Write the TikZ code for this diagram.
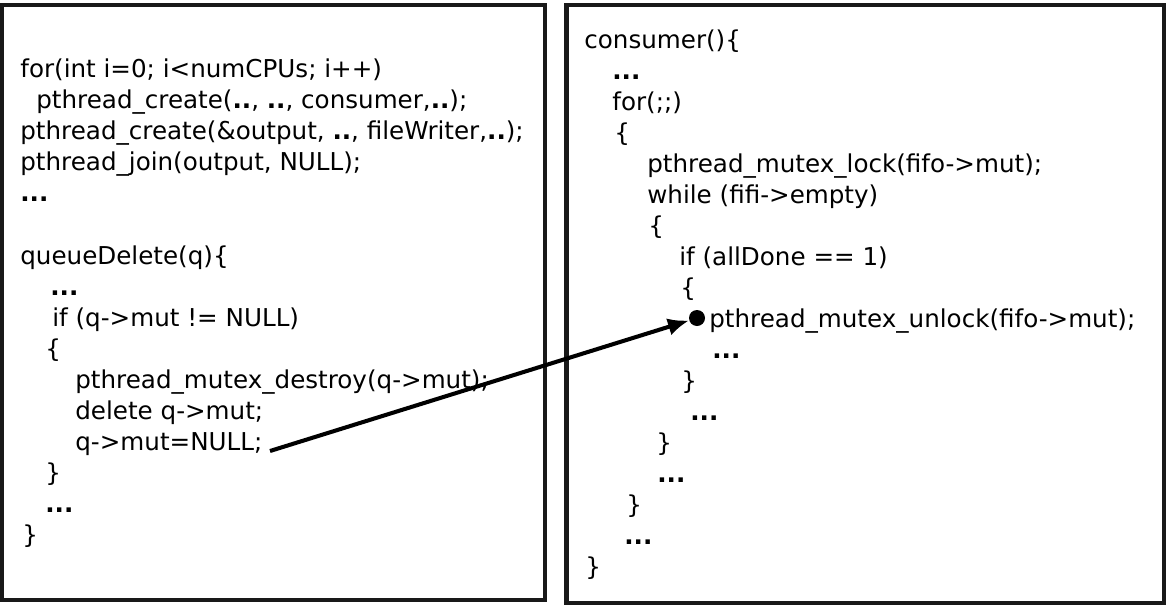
\documentclass[tikz,border=0pt]{standalone}
\usepackage{fontspec}
\setmainfont{DejaVu Sans}
\usepackage{tikz}
\usetikzlibrary{arrows.meta}
\def\dd#1{\textbf{#1}}

\begin{document}
\begin{tikzpicture}[x=0.02cm, y=-0.02cm,
	code/.style={anchor=base west, inner sep=0pt, font=\fontsize{14}{17}\selectfont},
	frame/.style={line width=2.8pt, color=black!90},
	pin/.style={circle, fill=black, inner sep=0pt, minimum size=0.32cm},
	link/.style={line width=2.3pt, -{Latex[length=12pt, width=10pt]}}]
			%%%%% START %%%%%
			\useasboundingbox (0, 0) rectangle (1167, 609);
			
			\draw[frame] (2, 5) rectangle (545, 600);
			\draw[frame] (566.5, 5) rectangle (1164, 603);
			
			% main program
			\node[code] (forcpu) at (20, 77) {for(int i=0; i<numCPUs; i++)};
			\node[code] (mkcons) at (36, 108) {pthread\_create(\dd{..}, \dd{..}, consumer,\dd{..});};
			\node[code] (mkwriter) at (20, 139) {pthread\_create(\&output, \dd{..}, fileWriter,\dd{..});};
			\node[code] (joinout) at (20, 170) {pthread\_join(output, NULL);};
			\node[code] (maindots) at (20, 201) {\dd{...}};
			
			\node[code] (qdel) at (20, 264) {queueDelete(q)\{};
			\node[code] (qdots) at (50, 295) {\dd{...}};
			\node[code] (qif) at (52, 326) {if (q->mut != NULL)};
			\node[code] (qopen) at (45, 357) {\{};
			\node[code] (qdestroy) at (75, 388) {pthread\_mutex\_destroy(q->mut);};
			\node[code] (qdelete) at (75, 419) {delete q->mut;};
			\node[code] (qnull) at (75, 450) {q->mut=NULL;};
			\node[code] (qclose) at (45, 481) {\}};
			\node[code] (qdots2) at (45, 512) {\dd{...}};
			\node[code] (qend) at (22, 543) {\}};
			
			% consumer thread
			\node[code] (cons) at (584, 48) {consumer()\{};
			\node[code] (cdots) at (612, 79) {\dd{...}};
			\node[code] (cfor) at (612, 110) {for(;;)};
			\node[code] (copen) at (614, 141) {\{};
			\node[code] (clock) at (647, 172) {pthread\_mutex\_lock(fifo->mut);};
			\node[code] (cwhile) at (647, 203) {while (fifi->empty)};
			\node[code] (wopen) at (648, 234) {\{};
			\node[code] (cif) at (679, 265) {if (allDone == 1)};
			\node[code] (iopen) at (680, 296) {\{};
			\node[pin] (hit) at (697, 318) {};
			\node[code] (cunlock) at (709, 327) {pthread\_mutex\_unlock(fifo->mut);};
			\node[code] (idots) at (712, 358) {\dd{...}};
			\node[code] (iclose) at (681, 389) {\}};
			\node[code] (wdots) at (690, 420) {\dd{...}};
			\node[code] (wclose) at (656, 451) {\}};
			\node[code] (fdots) at (657, 482) {\dd{...}};
			\node[code] (cclose) at (626, 513) {\}};
			\node[code] (cdots2) at (624, 544) {\dd{...}};
			\node[code] (cend) at (585, 575) {\}};
			
			\coordinate (tail) at (270, 451);
			\draw[link] (tail) -- (hit);
			%%%%% END %%%%%
\end{tikzpicture}
\end{document}
